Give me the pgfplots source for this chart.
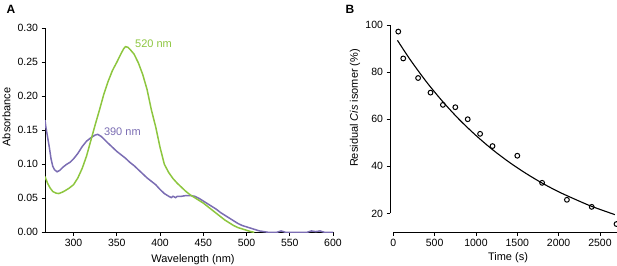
\documentclass[border=0pt]{standalone}
\usepackage{fontspec}
\setmainfont{Liberation Sans}
\usepackage{pgfplots}
\pgfplotsset{compat=1.18}
\definecolor{cgreen}{HTML}{8DC63F}
\definecolor{cpurple}{HTML}{7B6DB3}
\pgfplotsset{
  /pgf/number format/assume math mode=true,
  /pgf/number format/1000 sep={},
  myax/.style={
    scale only axis, anchor=south west,
    axis x line=bottom, axis y line=left,
    axis line style={-, line width=0.9pt},
    tick align=outside, major tick length=3.5pt,
    every tick/.style={black, line width=0.9pt},
    tick label style={font=\fontsize{10.5}{12}\selectfont, black},
    scaled ticks=false,
  }
}
\begin{document}
\begin{tikzpicture}
\useasboundingbox (0pt,0pt) rectangle (617pt,265pt);
% ---------------- Panel A ----------------
\begin{axis}[myax,
  at={(45pt,32.7pt)}, width=288pt, height=204pt,
  xmin=267, xmax=600, ymin=0, ymax=0.30,
  xtick={300,350,400,450,500,550,600},
  ytick={0,0.05,0.10,0.15,0.20,0.25,0.30},
  yticklabel style={/pgf/number format/.cd, fixed, fixed zerofill, precision=2},
  clip=true,
]
\addplot[cpurple, line width=1.5pt] coordinates {
(267,0.165) (268,0.155) (270,0.140) (272,0.125) (274,0.108) (276,0.097)
(278,0.092) (281,0.089) (284,0.091) (288,0.096) (292,0.100) (296,0.103)
(300,0.108) (305,0.116) (310,0.126) (315,0.134) (320,0.139) (325,0.143)
(328,0.144) (332,0.141) (336,0.136) (340,0.131) (345,0.125) (350,0.119)
(355,0.114) (360,0.109) (365,0.103) (370,0.098) (375,0.092) (380,0.086)
(385,0.080) (390,0.075) (395,0.070) (400,0.063) (405,0.057) (410,0.053)
(413,0.051) (415,0.053) (418,0.051) (420,0.053) (425,0.053) (430,0.054)
(435,0.054) (440,0.053) (445,0.050) (450,0.046) (455,0.042) (460,0.038)
(465,0.034) (470,0.029) (475,0.025) (480,0.021) (485,0.017) (490,0.013)
(495,0.010) (500,0.008) (505,0.006) (510,0.004) (515,0.002) (520,0.001)
(525,0.000) (535,0.000) (540,0.002) (545,0.000) (560,0.000) (570,0.000)
(575,0.002) (580,0.001) (585,0.002) (590,0.000) (600,0.000)
};
\addplot[cgreen, line width=1.5pt] coordinates {
(267,0.082) (270,0.072) (273,0.065) (276,0.060) (280,0.0575) (283,0.057)
(287,0.059) (290,0.061) (295,0.065) (300,0.070) (305,0.080) (310,0.094)
(315,0.112) (320,0.135) (325,0.158) (330,0.180) (335,0.203) (340,0.222)
(345,0.238) (350,0.250) (355,0.263) (358,0.270) (360,0.273) (363,0.272)
(366,0.268) (370,0.262) (375,0.249) (380,0.232) (385,0.210) (390,0.180)
(395,0.155) (400,0.125) (405,0.100) (410,0.088) (415,0.079) (420,0.072)
(425,0.066) (430,0.060) (435,0.055) (440,0.051) (445,0.047) (450,0.043)
(455,0.038) (460,0.033) (465,0.028) (470,0.023) (475,0.018) (480,0.014)
(485,0.010) (490,0.007) (495,0.005) (500,0.003) (505,0.001) (509,0.000)
};
\node[anchor=west, text=cgreen, font=\fontsize{11}{13}\selectfont, inner sep=0pt] at (axis cs:371,0.277) {520 nm};
\node[anchor=west, text=cpurple, font=\fontsize{11}{13}\selectfont, inner sep=0pt] at (axis cs:335,0.148) {390 nm};
\end{axis}
% ---------------- Panel B ----------------
\begin{axis}[myax,
  at={(390pt,32.7pt)}, width=226.5pt, height=207.3pt,
  xmin=-40, xmax=2700, ymin=12, ymax=100,
  axis line style={draw=none},
  xtick={0,500,1000,1500,2000,2500},
  ytick={20,40,60,80,100},
  clip=false,
]
\addplot[black, line width=1.1pt, smooth] coordinates {
(50,93.5) (200,85.5) (400,75.9) (600,67.4) (800,59.8) (1000,53.1)
(1200,47.1) (1400,41.8) (1600,37.1) (1800,32.9) (2000,29.2) (2200,26.0)
(2400,23.0) (2680,19.5)
};
\addplot[only marks, mark=o, mark size=2.4pt, mark options={black, line width=1pt, fill=white}] coordinates {
(60,97.2) (120,85.8) (300,77.5) (450,71.3) (600,66.1) (750,65.1) (900,60.0)
(1050,53.8) (1200,48.6) (1500,44.5) (1800,33.0) (2100,25.8) (2400,22.8) (2700,15.5)
};
\draw[line width=0.9pt] (axis cs:-40,20) -- (axis cs:-40,100);
\draw[line width=0.9pt] (axis cs:0,12) -- (axis cs:2700,12);
\end{axis}
% ---------------- Labels ----------------
\node[font=\bfseries\fontsize{12}{14}\selectfont] at (11pt,256pt) {A};
\node[font=\bfseries\fontsize{12}{14}\selectfont] at (350pt,256pt) {B};
\node[rotate=90, font=\fontsize{11}{13}\selectfont] at (6.5pt,148pt) {Absorbance};
\node[font=\fontsize{11}{13}\selectfont] at (193pt,5.7pt) {Wavelength (nm)};
\node[rotate=90, font=\fontsize{11}{13}\selectfont] at (355pt,157pt) {Residual \textit{Cis} isomer (\%)};
\node[font=\fontsize{11}{13}\selectfont] at (508pt,7pt) {Time (s)};
\end{tikzpicture}
\end{document}
